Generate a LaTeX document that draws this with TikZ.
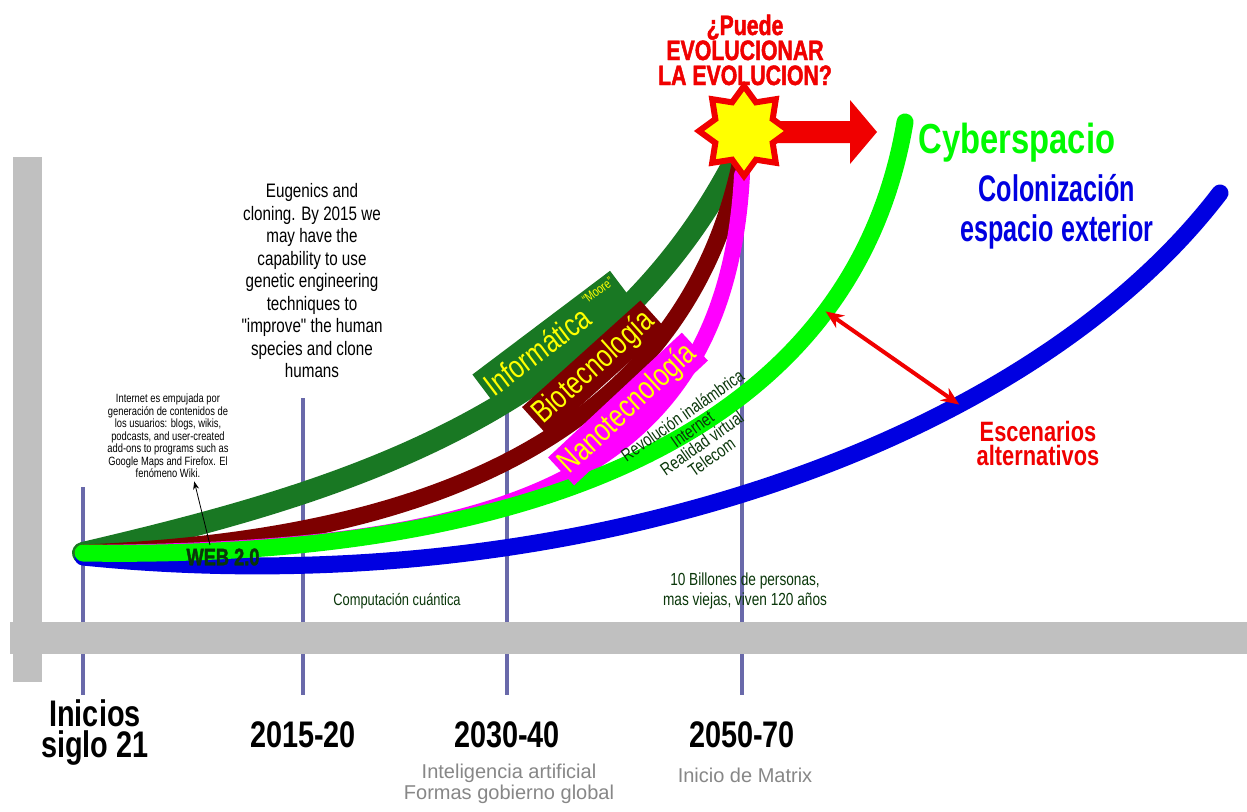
\documentclass[tikz,border=0pt]{standalone}
\usepackage{fontspec}
\setmainfont{Liberation Sans}
\newfontfamily\narrow{Liberation Sans}[FakeStretch=0.78]
\newfontfamily\estrecha{Liberation Sans}[FakeStretch=0.68]
\newfontfamily\gruesa{Liberation Sans}[FakeStretch=0.76, BoldFeatures={FakeBold=1.6}]
\usetikzlibrary{shapes.geometric,arrows.meta}
\definecolor{grisbar}{RGB}{192,192,192}
\definecolor{lineat}{RGB}{105,105,170}
\definecolor{verdeosc}{RGB}{25,120,35}
\definecolor{rojoosc}{RGB}{125,0,0}
\definecolor{rosa}{RGB}{255,0,255}
\definecolor{verde}{RGB}{0,250,0}
\definecolor{azul}{RGB}{0,0,225}
\definecolor{rojo}{RGB}{240,0,0}
\definecolor{amarillo}{RGB}{255,255,0}
\definecolor{textoverde}{RGB}{10,55,10}
\definecolor{gristexto}{RGB}{135,135,135}
\newcommand{\fsz}[2]{\fontsize{#1}{#2}\selectfont}

\begin{document}
\begin{tikzpicture}[x=1pt, y=-1pt,
  band/.style={line width=#1, line cap=round},
  linea/.style={lineat, line width=4pt},
  anio/.style={font=\narrow\bfseries\fsz{37}{31}, align=center},
  tag/.style={text=amarillo, inner sep=4pt, font=\narrow\fsz{32}{34}},
  nota/.style 2 args={font=\narrow\fsz{#1}{#2}, align=center}]

\useasboundingbox (0,0) rectangle (1247,811);
\fill[white] (0,0) rectangle (1247,811);

\coordinate (o) at (83,553);
\coordinate (t0) at (83,487);
\coordinate (t1) at (303,398);
\coordinate (t2) at (507,398);
\coordinate (t3) at (742,165);

\draw[linea] (t0) -- (83,695);
\draw[linea] (t1) -- (303,695);
\draw[linea] (t2) -- (507,695);
\draw[linea] (t3) -- (742,695);

\fill[grisbar] (13,157) rectangle (42,682);
\fill[grisbar] (10,622) rectangle (1247,654);

\draw[band=22pt, verdeosc] (o) .. controls (330,495) and (600,420) .. (735,160);
\draw[band=17pt, rojoosc] (o) .. controls (420,540) and (680,440) .. (740,165);
\draw[band=16pt, rosa] (o) .. controls (470,550) and (725,500) .. (742,175);
\draw[band=17pt, azul] (83,557) .. controls (550,605) and (1020,455) .. (1220,193) coordinate[pos=0.685] (cb);
\draw[band=17pt, verde] (o) .. controls (500,560) and (850,450) .. (905,122) coordinate[pos=0.775] (cg);

\node[tag, fill=verdeosc, rotate=37] (inf) at (552,337) {Informática\,\raisebox{1.1ex}{\fsz{13}{13}“Moore”}};
\node[tag, fill=rojoosc, rotate=42] (bio) at (594,368) {Biotecnología};
\node[tag, fill=rosa, rotate=43] (nano) at (628,409) {Nanotecnología};

\node[nota={18}{17}, text=textoverde, rotate=35] (rev) at (697,436) {Revolución inalámbrica\\Internet\\Realidad virtual\\Telecom};

\node[font=\gruesa\bfseries\fsz{24}{24}, text=textoverde] (web) at (223,557) {WEB 2.0};
\node[nota={12}{12.5}] (inet) at (168,436) {Internet es empujada por\\generación de contenidos de\\los usuarios: blogs, wikis,\\podcasts, and user-created\\add-ons to programs such as\\Google Maps and Firefox. El\\fenómeno Wiki.};
\draw[-{Stealth[length=8pt,width=6pt]}, line width=0.8pt] ([xshift=-13pt]web.north) -- (inet.-60);

\node[nota={19.5}{22.5}] (eug) at (312,281) {Eugenics and\\cloning. By 2015 we\\may have the\\capability to use\\genetic engineering\\techniques to\\"improve" the human\\species and clone\\humans};

\node[nota={16.5}{17}, text=textoverde] (comp) at (397,601) {Computación cuántica};
\node[nota={17.5}{20}, text=textoverde] (bill) at (745,591) {10 Billones de personas,\\mas viejas, viven 120 años};

\node[anio] (y0) at (95,733) {Inicios\\siglo 21};
\node[anio] (y1) at (303,735) {2015-20};
\node[anio] (y2) at (507,735) {2030-40};
\node[anio] (y3) at (742,735) {2050-70};

\node[font=\fsz{20}{21}, text=gristexto, align=center] (ia) at (509,784) {Inteligencia artificial\\Formas gobierno global};
\node[font=\fsz{20}{21}, text=gristexto] (mx) at (745,775) {Inicio de Matrix};

\node[font=\gruesa\bfseries\fsz{28}{25}, text=rojo, align=center] (preg) at (745,50) {¿Puede\\EVOLUCIONAR\\LA EVOLUCION?};

\fill[rojo] (770,121) -- (850,121) -- (850,100) -- (877,132) -- (850,164) -- (850,143) -- (770,143) -- cycle;
\node[star, star points=8, star point ratio=1.45, minimum size=90pt, inner sep=0pt, fill=amarillo, draw=rojo, line width=6pt] (sol) at (744,131) {};

\node[anchor=base west, text=verde, font=\narrow\bfseries\fsz{42}{42}] (cyb) at (915,153) {Cyberspacio};
\node[font=\estrecha\bfseries\fsz{37}{40}, text=azul, align=center] (col) at (1057,212) {Colonización\\espacio exterior};
\node[font=\narrow\bfseries\fsz{28}{24}, text=rojo, align=center] (esc) at (1038,443) {Escenarios\\alternativos};

\draw[rojo, line width=4pt, {Stealth[length=18pt,width=15pt]}-{Stealth[length=18pt,width=15pt]}] (cg) -- (cb);

\end{tikzpicture}
\end{document}
